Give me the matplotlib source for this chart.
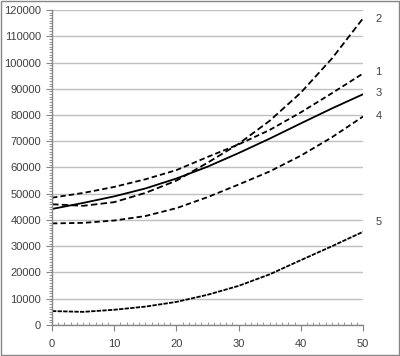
import numpy as np
import matplotlib
matplotlib.use("Agg")
import matplotlib.pyplot as plt
from matplotlib.ticker import MultipleLocator
from matplotlib.patches import Rectangle

plt.rcParams['font.family'] = ['Liberation Sans', 'DejaVu Sans']

# valores (x de 5 em 5)
x = [0, 5, 10, 15, 20, 25, 30, 35, 40, 45, 50]
curva1 = [48500, 50300, 52600, 55500, 59000, 64000, 68800, 74300, 81000, 88300, 95800]
curva2 = [46000, 45400, 46800, 50300, 55000, 61800, 69000, 77800, 88500, 101500, 116800]
curva3 = [44200, 46500, 49000, 52000, 55800, 60300, 65500, 71000, 76800, 82500, 87900]
curva4 = [38700, 38900, 39800, 41500, 44500, 48700, 53500, 58500, 64500, 71500, 79400]
curva5 = [5300, 5000, 5800, 7000, 8800, 11500, 14900, 19300, 24700, 30000, 35500]

rotulos = ["1", "2", "3", "4", "5"]
pos_rotulos = [96500, 116500, 88400, 79600, 39200]

CINZA = "#868686"
TEXTO = "#404040"

fig = plt.figure(figsize=(4.0, 3.56), dpi=100)
fig.patches.append(Rectangle((0.002, 0.002), 0.996, 0.996, transform=fig.transFigure,
                             fill=False, edgecolor=CINZA, linewidth=1.0))
ax = fig.add_axes([0.13, 0.0871, 0.7775, 0.8848])

lw = 1.3
ax.plot(x, curva1, color="black", lw=lw, dashes=(3.0, 1.7))
ax.plot(x, curva2, color="black", lw=lw, dashes=(3.6, 1.8))
ax.plot(x, curva3, color="black", lw=lw)
ax.plot(x, curva4, color="black", lw=lw, dashes=(3.0, 1.7))
ax.plot(x, curva5, color="black", lw=lw, dashes=(2.4, 0.7))

for r, yv in zip(rotulos, pos_rotulos):
    ax.text(52.5, yv, r, fontsize=8, color=TEXTO, ha="center", va="center", clip_on=False)

ax.set_xlim(0, 50)
ax.set_ylim(0, 120000)
ax.xaxis.set_major_locator(MultipleLocator(10))
ax.xaxis.set_minor_locator(MultipleLocator(1))
ax.yaxis.set_major_locator(MultipleLocator(10000))
ax.yaxis.set_minor_locator(MultipleLocator(1000))

ax.grid(axis="y", which="major", color="#c0c0c0", linewidth=1.0)
ax.set_axisbelow(True)

for s in ["top", "right"]:
    ax.spines[s].set_visible(False)
for s in ["left", "bottom"]:
    ax.spines[s].set_color(CINZA)
    ax.spines[s].set_linewidth(1.0)

ax.tick_params(axis="both", which="major", colors=CINZA, labelcolor=TEXTO,
               labelsize=8, length=4, width=0.8)
ax.tick_params(axis="both", which="minor", colors=CINZA, length=2.2, width=0.6)
ax.tick_params(axis="x", which="minor", direction="in")
ax.tick_params(axis="x", which="major", pad=6)
ax.tick_params(axis="y", which="major", pad=4)

fig.savefig("out.png", dpi=100)
